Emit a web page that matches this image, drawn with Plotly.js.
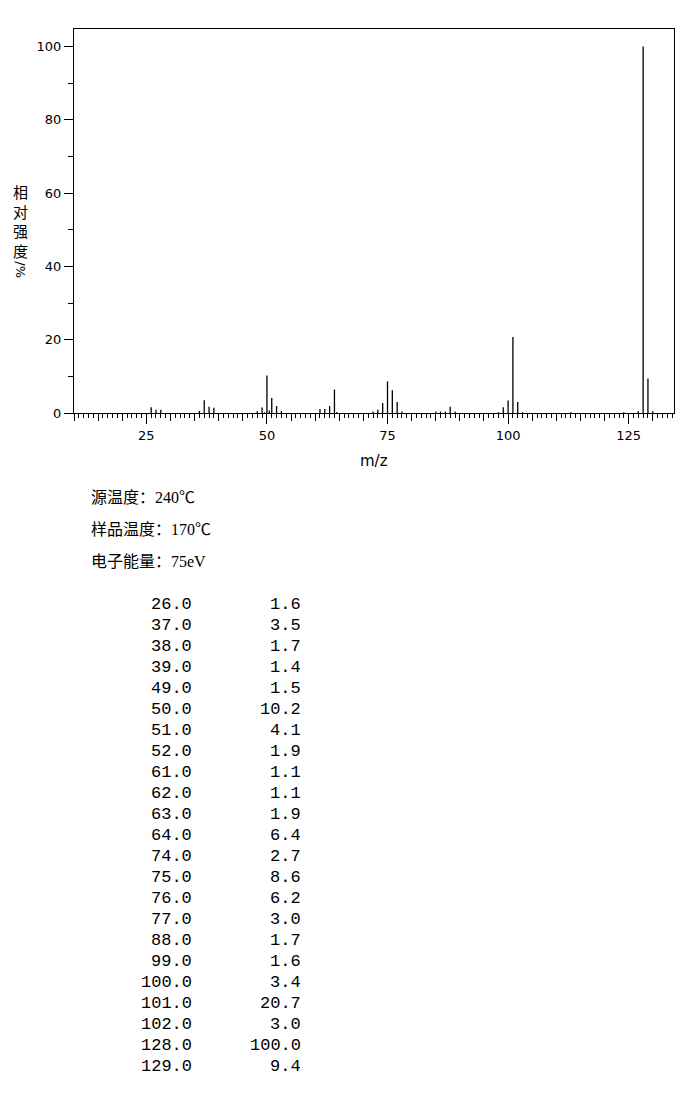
<!DOCTYPE html>
<html>
<head>
<meta charset="utf-8">
<script src="https://cdn.plot.ly/plotly-3.0.1.min.js"></script>
<style>
html,body{margin:0;padding:0;background:#fff;}
#chart{width:696px;height:1106px;}
</style>
</head>
<body>
<div id="chart"></div>
<script>
// m/z values of every stick drawn in the spectrum
const mz = [26, 27, 28, 36, 37, 38, 39, 48, 49, 49.5, 50, 50.5, 51, 52, 53,
            61, 62, 63, 64, 64.5, 72, 73, 74, 75, 76, 77, 78, 85, 86, 87, 88, 89,
            98, 99, 100, 101, 102, 103, 113, 124, 127, 128, 129, 130];
// relative intensity (%)
const intensity = [1.6, 0.9, 0.9, 0.6, 3.5, 1.7, 1.4, 0.5, 1.5, 0.2, 10.2, 0.7, 4.1, 1.9, 0.6,
                   1.1, 1.1, 1.9, 6.4, 0.3, 0.4, 0.9, 2.7, 8.6, 6.2, 3.0, 0.4, 0.4, 0.4, 0.4, 1.7, 0.4,
                   0.2, 1.6, 3.4, 20.7, 3.0, 0.2, 0.2, 0.2, 0.5, 100.0, 9.4, 0.5];
// peak table listed under the chart
const tableMz = [26, 37, 38, 39, 49, 50, 51, 52, 61, 62, 63, 64, 74, 75, 76, 77, 88, 99, 100, 101, 102, 128, 129];
const tableInt = [1.6, 3.5, 1.7, 1.4, 1.5, 10.2, 4.1, 1.9, 1.1, 1.1, 1.9, 6.4, 2.7, 8.6, 6.2, 3.0, 1.7, 1.6, 3.4, 20.7, 3.0, 100.0, 9.4];
// instrument conditions
const conditions = ["源温度：240℃", "样品温度：170℃", "电子能量：75eV"];
const xTitle = "m/z";
const yTitleChars = ["相", "对", "强", "度"];
const yTitleUnit = "/%";

// geometry of plot area (pixels)
const L = 73.5, R = 674.5, T = 29.3, B = 413;
const W = 696, H = 1106;
const px2x = p => (p - L) / (R - L);
const px2y = p => (B - p) / (B - T);

const xs = [], ys = [];
mz.forEach((m, i) => { xs.push(m, m, null); ys.push(0, intensity[i], null); });

const XR = [10, 134.4], YR = [0, 104.75];
const tickFont = {family: "DejaVu Sans, sans-serif", size: 13, color: "#000"};

const traces = [
  {x: xs, y: ys, type: "scatter", mode: "lines", line: {color: "#000", width: 1.3},
   hoverinfo: "skip", showlegend: false, xaxis: "x", yaxis: "y"},
  {x: [mz[0]], y: [0], type: "scatter", mode: "markers", marker: {opacity: 0},
   hoverinfo: "skip", showlegend: false, xaxis: "x2", yaxis: "y"}
];

const annotations = [];
annotations.push({xref: "paper", yref: "paper", x: px2x(374), y: px2y(461), text: xTitle,
  showarrow: false, xanchor: "center", yanchor: "middle",
  font: {family: "DejaVu Sans, sans-serif", size: 15, color: "#000"}});
annotations.push({xref: "paper", yref: "paper", x: px2x(20), y: px2y(221), text: yTitleChars.join("<br>"),
  showarrow: false, xanchor: "center", yanchor: "middle",
  font: {family: "Noto Sans CJK SC, sans-serif", size: 15, color: "#000"}});
annotations.push({xref: "paper", yref: "paper", x: px2x(20), y: px2y(270), text: yTitleUnit, textangle: 90,
  showarrow: false, xanchor: "center", yanchor: "middle",
  font: {family: "DejaVu Sans, sans-serif", size: 13, color: "#000"}});

conditions.forEach((c, i) => {
  annotations.push({xref: "paper", yref: "paper", x: px2x(89), y: px2y(497 + 32 * i), text: c,
    showarrow: false, xanchor: "left", yanchor: "middle",
    font: {family: "Liberation Serif, Noto Sans CJK SC, serif", size: 16, color: "#000"}});
});

const monoFont = {family: "Liberation Mono, Courier New, monospace", size: 17, color: "#000"};
tableMz.forEach((m, i) => {
  const yy = px2y(604 + 21 * i);
  annotations.push({xref: "paper", yref: "paper", x: px2x(194), y: yy, text: m.toFixed(1),
    showarrow: false, xanchor: "right", yanchor: "middle", font: monoFont});
  annotations.push({xref: "paper", yref: "paper", x: px2x(303), y: yy, text: tableInt[i].toFixed(1),
    showarrow: false, xanchor: "right", yanchor: "middle", font: monoFont});
});

const layout = {
  width: W, height: H,
  margin: {l: L, r: W - R, t: T, b: H - B, pad: 0},
  paper_bgcolor: "#fff", plot_bgcolor: "#fff",
  showlegend: false,
  xaxis: {range: XR, showgrid: false, zeroline: false, showline: true, linecolor: "#000", linewidth: 1,
    mirror: true, ticks: "outside", tick0: 0, dtick: 25, ticklen: 10, tickwidth: 1, tickcolor: "#000",
    tickfont: tickFont, fixedrange: true,
    minor: {ticks: "outside", dtick: 1, tick0: 0, ticklen: 4, tickwidth: 1, tickcolor: "#000", showgrid: false}},
  xaxis2: {range: XR, overlaying: "x", anchor: "y", side: "bottom", showgrid: false, zeroline: false,
    showline: false, ticks: "outside", tick0: 0, dtick: 5, ticklen: 7, tickwidth: 1, tickcolor: "#000",
    showticklabels: false, fixedrange: true},
  yaxis: {range: YR, showgrid: false, zeroline: false, showline: true, linecolor: "#000", linewidth: 1,
    mirror: true, ticks: "outside", tick0: 0, dtick: 20, ticklen: 9, tickwidth: 1, tickcolor: "#000",
    tickfont: tickFont, fixedrange: true,
    minor: {ticks: "outside", dtick: 10, tick0: 0, ticklen: 5, tickwidth: 1, tickcolor: "#000", showgrid: false}},
  annotations: annotations
};

Plotly.newPlot("chart", traces, layout, {displayModeBar: false, staticPlot: true});
</script>
</body>
</html>
